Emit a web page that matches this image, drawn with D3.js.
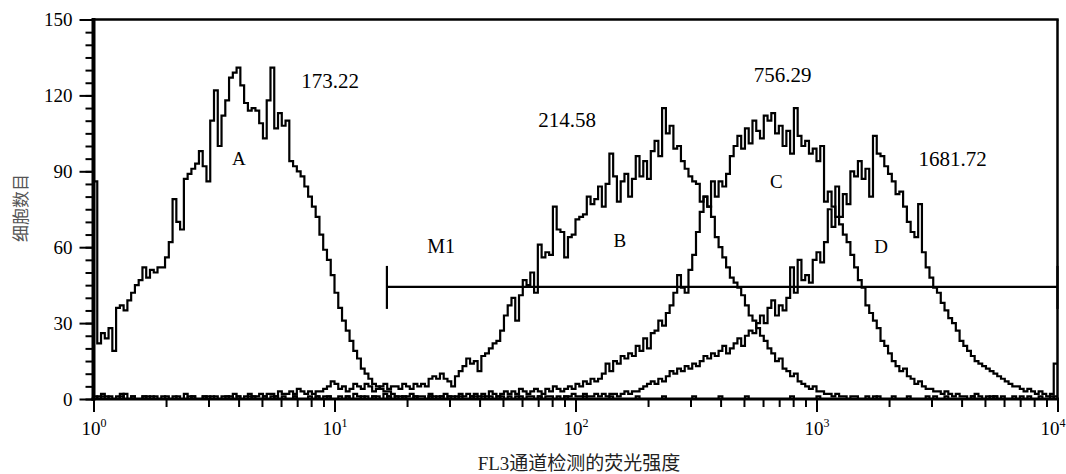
<!DOCTYPE html>
<html>
<head>
<meta charset="utf-8">
<script src="https://cdn.jsdelivr.net/npm/d3@7"></script>
<style>
  html, body { margin: 0; padding: 0; background: #fff; }
  svg { display: block; }
</style>
</head>
<body>
<svg id="chart" width="1066" height="474"></svg>
<script>
// ---------------- DATA ----------------
// 256 log channels spanning 10^0 .. 10^4 (64 channels per decade)
const channelsPerDecade = 64;

const seriesNames = ["A", "B", "C", "D"];

const countsA = [
  86,22,26,24,28,19,36,37,35,39,
  42,45,47,52,48,51,50,52,52,56,
  62,79,70,67,87,89,91,93,98,92,
  86,110,122,100,112,118,127,129,131,124,
  117,114,115,114,109,103,118,131,107,113,
  108,110,94,92,90,88,84,80,76,72,
  65,59,55,49,42,36,31,27,23,19,
  16,12,10,8,6,5,4,3,3,2,
  1,0,1,0,0,1,0,0,0,1,
  0,0,1,0,0,0,1,0,0,0,
  0,1,0,0,0,0,0,1,0,0,
  0,0,0,1,0,0,0,0,1,0,
  0,0,0,0,0,1,0,0,0,0,
  1,0,0,0,0,0,0,1,0,0,
  0,0,0,0,1,0,0,0,0,0,
  0,1,0,0,0,0,0,0,0,1,
  0,0,0,0,0,0,1,0,0,0,
  0,0,0,1,0,0,0,0,0,0,
  0,0,0,0,0,1,0,0,0,0,
  0,0,1,0,0,0,0,0,0,0,
  0,0,0,0,0,0,0,1,0,0,
  0,0,0,0,0,0,0,0,0,0,
  0,0,0,1,0,0,0,0,0,0,
  0,0,0,0,0,0,0,0,1,0,
  0,0,0,0,0,0,0,0,0,0,
  0,0,0,0,0,0
];

const countsB = [
  1,0,2,1,0,0,1,0,2,0,
  1,0,0,1,0,1,0,0,1,0,
  0,1,0,0,2,0,1,0,0,1,
  0,0,1,0,1,1,0,2,1,0,
  1,2,1,1,2,1,2,2,1,3,
  2,2,3,2,4,3,2,3,2,3,
  3,4,5,7,6,4,5,3,4,6,
  5,4,6,5,3,4,5,6,4,5,
  5,4,6,5,4,6,5,6,5,8,
  9,8,10,8,7,5,9,11,13,16,
  14,15,11,17,18,20,22,23,27,33,
  37,40,31,41,47,45,50,42,61,56,
  58,57,76,67,66,56,64,65,71,72,
  73,80,77,79,84,76,85,97,88,78,
  86,89,80,87,96,88,94,87,98,102,
  96,115,105,108,99,100,94,91,88,86,
  85,78,80,76,72,64,60,56,52,48,
  46,44,41,37,33,31,28,25,23,20,
  18,15,16,12,11,9,10,7,6,5,
  4,5,3,3,2,2,1,2,1,1,
  0,1,1,0,0,1,0,0,1,0,
  0,0,1,0,0,0,1,0,0,0,
  0,1,0,0,0,0,1,0,0,0,
  0,0,0,1,0,0,0,0,0,1,
  0,0,0,0,0,0,1,0,0,0,
  0,0,0,0,1,0
];

const countsC = [
  0,1,0,0,1,0,0,2,0,0,
  1,0,0,0,1,0,1,0,0,0,
  0,0,1,0,0,0,1,0,0,1,
  0,1,0,0,0,1,0,0,1,0,
  0,0,1,0,0,1,0,1,0,0,
  1,0,0,1,0,0,0,1,0,1,
  0,1,1,0,0,1,0,1,0,2,
  1,0,1,0,1,1,0,2,1,0,
  1,1,0,1,2,0,1,1,0,2,
  1,0,1,2,1,1,0,2,1,2,
  1,2,1,2,1,3,2,1,2,3,
  2,3,2,4,3,2,3,4,3,2,
  4,3,5,4,3,
  4,5,4,6,5,7,6,8,7,8,10,14,11,15,14,
  17,16,18,17,21,19,24,20,26,27,
  31,29,34,37,42,49,44,42,51,57,
  66,74,80,76,86,80,86,84,89,96,
  100,104,99,107,101,110,106,103,112,110,
  113,105,108,100,106,97,115,104,100,102,
  97,99,94,100,78,82,76,72,69,65,
  62,57,52,47,44,37,34,31,28,23,
  21,18,15,13,11,12,9,8,6,7,
  5,4,4,3,3,2,3,2,1,2,
  1,1,0,1,2,1,0,1,0,1,
  0,1,0,0,1,0,0,0,1,0,0,1,0,0,0,1
];

const countsD = [
  0,0,1,0,0,0,0,1,0,0,
  0,0,0,1,0,0,0,0,0,1,
  0,0,0,0,0,1,0,0,0,0,
  1,0,0,0,0,0,1,0,0,0,
  0,1,0,0,0,0,0,0,1,0,
  0,0,0,1,0,0,0,0,0,1,
  0,0,1,0,0,0,0,1,0,0,
  0,1,0,0,1,0,0,0,1,0,
  0,0,1,0,0,1,0,0,0,1,
  0,1,0,0,1,0,0,1,0,0,
  1,0,0,1,0,1,0,0,1,0,
  1,0,1,0,0,1,1,0,1,0,
  1,1,0,1,0,1,1,2,1,1,
  2,1,1,2,1,2,1,2,2,1,
  2,3,2,3,3,4,5,6,7,6,
  8,7,9,11,10,12,11,13,12,14,
  13,15,17,16,18,17,19,21,18,20,
  22,24,21,25,27,26,30,33,30,36,
  39,33,37,35,40,52,42,55,47,49,
  46,55,58,54,62,75,68,84,72,81,
  77,90,88,94,87,91,80,104,97,96,
  92,89,86,81,82,76,70,66,64,77,
  58,52,48,44,42,38,35,32,30,27,
  23,21,19,17,15,14,13,12,11,10,
  9,8,7,6,5,5,4,3,4,3,
  2,3,2,1,2,14
];

// annotation texts (mean fluorescence values)
const meanLabels = ["173.22", "214.58", "756.29", "1681.72"];

// M1 marker gate (fluorescence range) and its level (count)
const markerName = "M1";
const markerRange = [16.5, 10000];
const markerLevel = 44.3;

// axis ticks
const yTickValues = [0, 30, 60, 90, 120, 150];
const yMinorTickValues = d3.range(0, 151, 5);
const xTickExponents = [0, 1, 2, 3, 4];
const xMinorTickValues = [1, 10, 100, 1000].flatMap(d => [2,3,4,5,6,7,8,9].map(k => k * d));

const xTitle = "FL3通道检测的荧光强度";
const yTitle = "细胞数目";

// ---------------- LAYOUT ----------------
const svg = d3.select("#chart");
const plotL = 93.5, plotR = 1057.5, plotT = 19.5, plotB = 399;
const serif = "'Liberation Serif','Times New Roman',serif";

const x = d3.scaleLog().domain([1, 1e4]).range([plotL, plotR]);
const y = d3.scaleLinear().domain([0, 150]).range([plotB, plotT]);

svg.append("rect").attr("width", 1066).attr("height", 474).attr("fill", "#fff");

// label positions in data space
const meanLabelPos = [[9.6, 123.1], [92.2, 107.6], [724, 125.4], [3671, 92.2]];
const nameLabelPos = [[4.01, 92.6], [152.9, 60.2], [680.8, 83.5], [1854, 57.8]];
const markerLabelPos = [27.7, 57.8];

// ---------------- HISTOGRAMS ----------------
svg.append("clipPath").attr("id", "plotclip")
  .append("rect").attr("x", plotL).attr("y", plotT - 2).attr("width", plotR - plotL).attr("height", plotB - plotT + 2);

const line = d3.line()
  .x(d => x(d[0]))
  .y(d => y(d[1]))
  .curve(d3.curveStepAfter);

function toPoints(counts) {
  const pts = [[1, 0]];
  counts.forEach((v, i) => pts.push([Math.pow(10, i / channelsPerDecade), v]));
  pts.push([Math.pow(10, counts.length / channelsPerDecade), counts[counts.length - 1]]);
  return pts;
}

const allSeries = [countsA, countsB, countsC, countsD];
svg.append("g").attr("clip-path", "url(#plotclip)")
  .selectAll("path").data(allSeries).join("path")
  .attr("d", d => line(toPoints(d)))
  .attr("fill", "none")
  .attr("stroke", "#000")
  .attr("stroke-width", 2.2)
  .attr("stroke-linejoin", "miter");

// ---------------- M1 MARKER ----------------
const mk = svg.append("g").attr("stroke", "#000").attr("stroke-width", 2.2);
mk.append("line")
  .attr("x1", x(markerRange[0])).attr("x2", x(markerRange[1]))
  .attr("y1", y(markerLevel)).attr("y2", y(markerLevel));
markerRange.forEach(v => {
  mk.append("line")
    .attr("x1", x(v)).attr("x2", x(v))
    .attr("y1", y(markerLevel) - 21).attr("y2", y(markerLevel) + 22);
});

// ---------------- FRAME ----------------
const fr = svg.append("g").attr("stroke", "#000");
fr.append("line").attr("x1", plotL).attr("x2", plotL).attr("y1", plotT - 1.5).attr("y2", plotB + 1.5).attr("stroke-width", 4);
fr.append("line").attr("x1", plotL - 2).attr("x2", plotR + 1.5).attr("y1", plotB).attr("y2", plotB).attr("stroke-width", 3);
fr.append("line").attr("x1", plotL).attr("x2", plotR + 1.2).attr("y1", plotT).attr("y2", plotT).attr("stroke-width", 2.5);
fr.append("line").attr("x1", plotR).attr("x2", plotR).attr("y1", plotT).attr("y2", plotB).attr("stroke-width", 2.5);

// ---------------- AXES ----------------
const yMinor = svg.append("g").attr("transform", `translate(${plotL},0)`)
  .call(d3.axisLeft(y).tickValues(yMinorTickValues).tickSize(8).tickFormat(""));
const yMajor = svg.append("g").attr("transform", `translate(${plotL},0)`)
  .call(d3.axisLeft(y).tickValues(yTickValues).tickSize(14).tickPadding(7));
[yMinor, yMajor].forEach(g => {
  g.select(".domain").remove();
  g.selectAll(".tick line").attr("stroke", "#000").attr("stroke-width", 2);
});
yMajor.selectAll(".tick text")
  .attr("font-family", serif).attr("font-size", 19).attr("fill", "#000")
  .attr("dy", "0.34em");

const xMinor = svg.append("g").attr("transform", `translate(0,${plotB})`)
  .call(d3.axisBottom(x).tickValues(xMinorTickValues).tickSize(8).tickFormat(""));
const xMajor = svg.append("g").attr("transform", `translate(0,${plotB})`)
  .call(d3.axisBottom(x).tickValues(xTickExponents.map(e => Math.pow(10, e))).tickSize(13));
[xMinor, xMajor].forEach(g => {
  g.select(".domain").remove();
  g.selectAll(".tick line").attr("stroke", "#000").attr("stroke-width", 2);
});
xMajor.selectAll(".tick text")
  .text(null)
  .attr("y", 36).attr("dy", 0)
  .attr("x", (d, i) => i === xTickExponents.length - 1 ? -5 : 0)
  .attr("font-family", serif).attr("font-size", 19).attr("fill", "#000")
  .attr("text-anchor", "middle")
  .each(function(d, i) {
    const t = d3.select(this);
    t.append("tspan").text("10");
    t.append("tspan").attr("dy", -8).attr("font-size", 12).text(xTickExponents[i]);
  });

// axis titles
svg.append("text")
  .attr("x", 579).attr("y", 470)
  .attr("text-anchor", "middle")
  .attr("font-family", "'Liberation Serif','Noto Sans CJK SC',serif")
  .attr("font-size", 19).attr("fill", "#222")
  .text(xTitle);

svg.append("text")
  .attr("transform", "translate(27,208) rotate(-90)")
  .attr("text-anchor", "middle")
  .attr("font-family", "'Noto Sans CJK SC',sans-serif")
  .attr("font-size", 17).attr("fill", "#555")
  .text(yTitle);

// ---------------- ANNOTATIONS ----------------
const ann = svg.append("g").attr("font-family", serif).attr("fill", "#000").attr("text-anchor", "middle");
meanLabels.forEach((t, i) => {
  ann.append("text").attr("x", x(meanLabelPos[i][0])).attr("y", y(meanLabelPos[i][1]))
    .attr("font-size", 21).text(t);
});
seriesNames.forEach((t, i) => {
  ann.append("text").attr("x", x(nameLabelPos[i][0])).attr("y", y(nameLabelPos[i][1]))
    .attr("font-size", 19).text(t);
});
ann.append("text").attr("x", x(markerLabelPos[0])).attr("y", y(markerLabelPos[1]))
  .attr("font-size", 20).text(markerName);
</script>
</body>
</html>
